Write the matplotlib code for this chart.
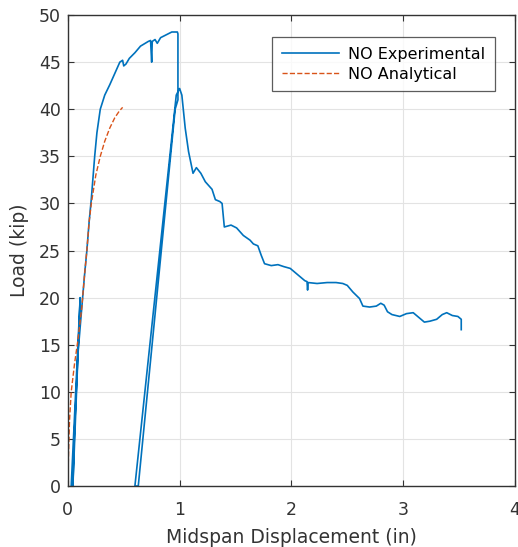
import matplotlib
matplotlib.use("Agg")
import matplotlib.pyplot as plt

plt.rcParams['font.family'] = ['DejaVu Sans']

exp_x = [0.03, 0.07, 0.11, 0.045, 0.06, 0.09, 0.125, 0.15, 0.17, 0.19, 0.21, 0.22, 0.24, 0.26,
         0.29, 0.33, 0.375, 0.42, 0.465, 0.49, 0.50, 0.52, 0.55, 0.60, 0.65, 0.72, 0.74, 0.75,
         0.755, 0.78, 0.80, 0.83, 0.88, 0.93, 0.98, 0.985, 0.985, 0.96, 0.63, 0.60, 0.93, 0.97,
         1.00, 1.02, 1.05, 1.08, 1.12, 1.15, 1.19, 1.23, 1.29, 1.32, 1.36, 1.38, 1.40, 1.46,
         1.51, 1.57, 1.63, 1.66, 1.70, 1.73, 1.76, 1.82, 1.88, 1.93, 1.99, 2.05, 2.12, 2.14,
         2.145, 2.15, 2.23, 2.32, 2.40, 2.46, 2.50, 2.55, 2.61, 2.64, 2.70, 2.76, 2.80, 2.83,
         2.86, 2.90, 2.97, 3.03, 3.09, 3.14, 3.19, 3.24, 3.30, 3.35, 3.39, 3.44, 3.49, 3.52, 3.52]
exp_y = [0.0, 10.0, 20.0, 0.0, 6.0, 14.0, 19.0, 22.5, 25.0, 28.0, 30.5, 32.0, 35.0, 37.5,
         40.0, 41.5, 42.6, 43.8, 45.0, 45.2, 44.6, 44.8, 45.4, 46.0, 46.7, 47.2, 47.3, 45.0,
         47.2, 47.4, 47.0, 47.6, 47.9, 48.2, 48.2, 48.0, 41.0, 40.0, 0.0, 0.0, 37.0, 41.5,
         42.2, 41.5, 38.0, 35.5, 33.2, 33.8, 33.2, 32.3, 31.5, 30.4, 30.2, 30.0, 27.5, 27.7,
         27.4, 26.6, 26.1, 25.7, 25.5, 24.5, 23.6, 23.4, 23.5, 23.3, 23.1, 22.5, 21.8, 21.7,
         20.8, 21.6, 21.5, 21.6, 21.6, 21.5, 21.3, 20.6, 19.9, 19.1, 19.0, 19.1, 19.4, 19.2,
         18.5, 18.2, 18.0, 18.3, 18.4, 17.9, 17.4, 17.5, 17.7, 18.2, 18.4, 18.1, 18.0, 17.7, 16.6]

ana_x = [0.0, 0.005, 0.015, 0.03, 0.06, 0.09, 0.125, 0.15, 0.17, 0.19, 0.21, 0.25, 0.29,
         0.33, 0.375, 0.42, 0.46, 0.49]
ana_y = [0.0, 3.0, 7.0, 10.0, 13.0, 15.5, 19.0, 22.5, 25.0, 28.0, 30.0, 33.0, 35.0,
         36.6, 38.0, 39.1, 39.8, 40.2]

labels = ["NO Experimental", "NO Analytical"]

fig = plt.figure(figsize=(5.18, 5.47), dpi=100)
ax = fig.add_axes([0.131, 0.1115, 0.863, 0.861])

ax.plot(exp_x, exp_y, color='#0072BD', lw=1.2, label=labels[0])
ax.plot(ana_x, ana_y, color='#D95319', lw=1.0, ls='--', label=labels[1])

ax.set_xlim(0, 4)
ax.set_ylim(0, 50)
ax.set_xticks([0, 1, 2, 3, 4])
ax.set_yticks(range(0, 51, 5))
ax.grid(True, color='#E3E3E3', lw=0.8)
ax.set_axisbelow(True)
ax.tick_params(direction='in', top=True, right=True, labelsize=12.5, colors='#333333',
               length=4)
ax.tick_params(axis='x', pad=11)
ax.tick_params(axis='y', pad=5)
for s in ax.spines.values():
    s.set_color('#333333')
    s.set_linewidth(1.0)
ax.set_xlabel("Midspan Displacement (in)", fontsize=13.5, color='#333333', labelpad=6)
ax.set_ylabel("Load (kip)", fontsize=13.5, color='#333333', labelpad=7)

leg = ax.legend(loc='upper right', fontsize=11.5, frameon=True, fancybox=False,
                edgecolor='#333333', handlelength=3.6, handletextpad=0.55,
                labelspacing=0.3, borderpad=0.6, borderaxespad=0,
                bbox_to_anchor=(0.955, 0.953))
leg.get_frame().set_linewidth(0.9)

fig.savefig("out.png", dpi=100)
